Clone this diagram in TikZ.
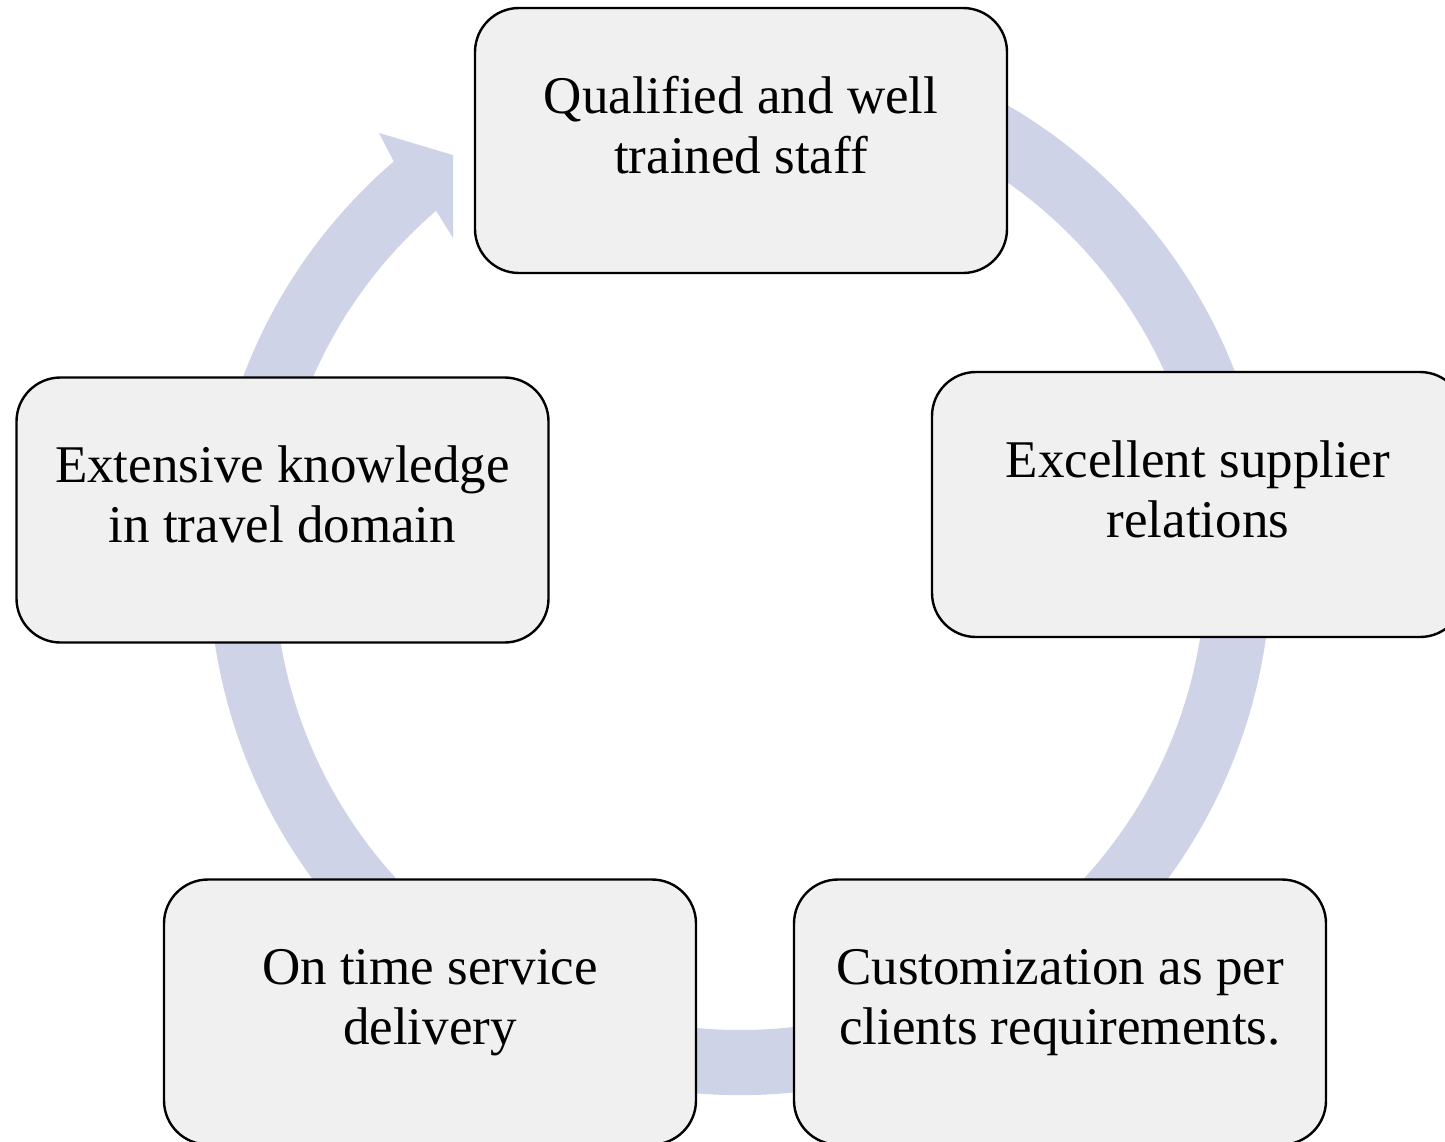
\documentclass[tikz,border=0pt]{standalone}
\usepackage{fontspec}
\setmainfont{Liberation Serif}
\usetikzlibrary{calc}
\definecolor{ringblue}{RGB}{206,211,232}
\definecolor{boxgray}{RGB}{240,240,240}
\begin{document}
\begin{tikzpicture}[x=0.5pt, y=0.5pt, font=\fontsize{26.5pt}{30pt}\selectfont,
    box/.style={draw=black, line width=1.2pt, fill=boxgray, rounded corners=22pt,
        minimum width=266pt, minimum height=132.5pt, align=center, inner sep=0pt,
        text height=48pt, text depth=15.5pt}]
            \useasboundingbox (0,0) rectangle (1445,-1141);
            \coordinate (ctr) at (740,-564);
            \fill[ringblue] (ctr) ++(70:265.5pt) arc[start angle=70, end angle=-229.3, radius=265.5pt]
                -- (379,-133) -- (453,-155) -- (453,-238)
                -- ($(ctr)+(-229.3:233pt)$) arc[start angle=-229.3, end angle=70, radius=233pt] -- cycle;
            \node[box] (staff) at (741,-140.5) {Qualified and well\\trained staff};
            \node[box] (supplier) at (1198,-504.5) {Excellent supplier\\relations};
            \node[box] (custom) at (1060,-1012) {Customization as per\\clients requirements.};
            \node[box] (ontime) at (430,-1012) {On time service\\delivery};
            \node[box] (knowledge) at (282.5,-510) {Extensive knowledge\\in travel domain};
    \end{tikzpicture}
\end{document}
